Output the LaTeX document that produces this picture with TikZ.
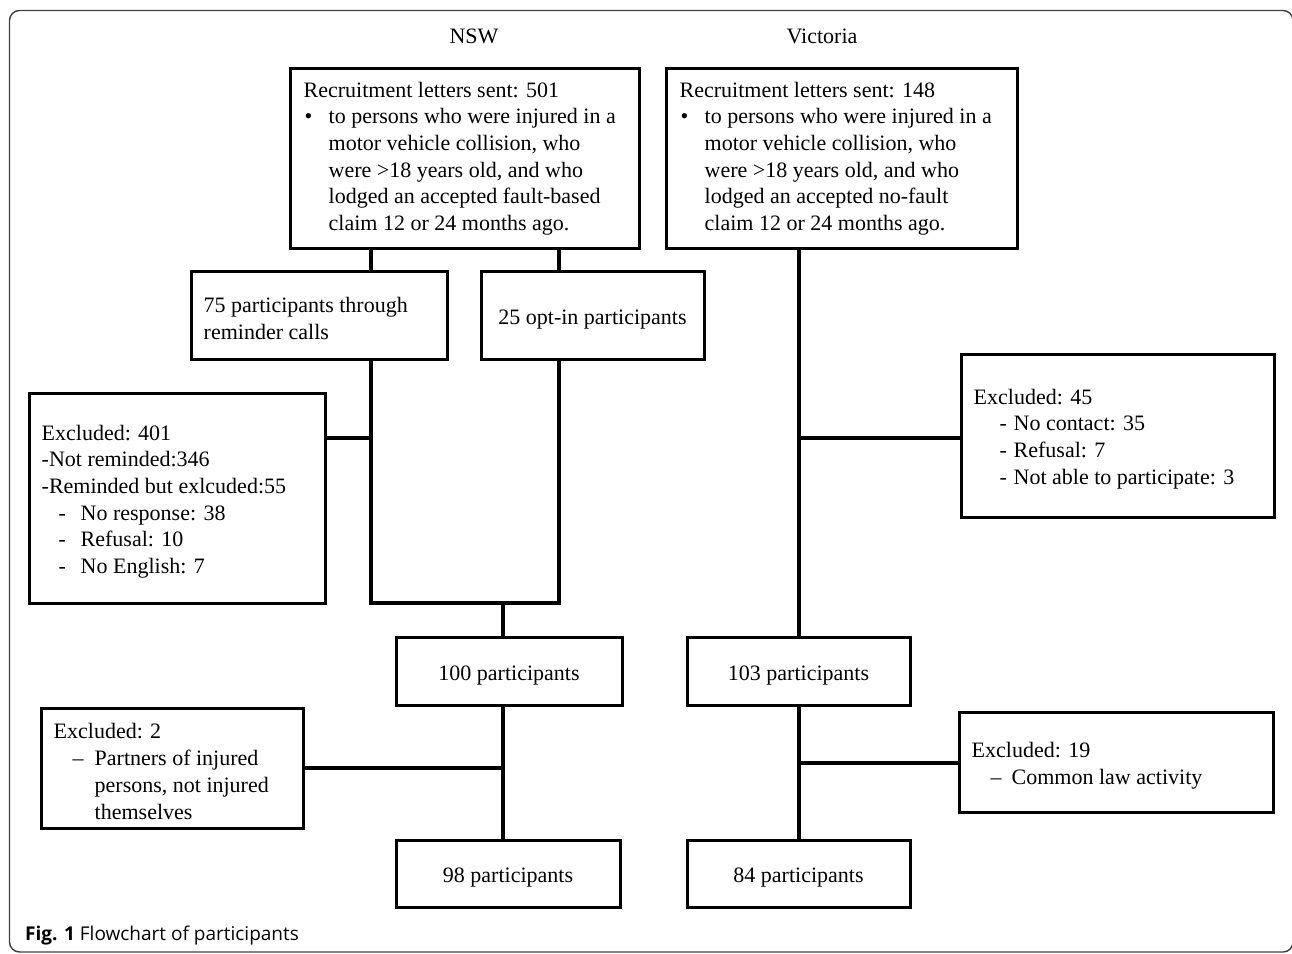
\documentclass[tikz,border=0pt]{standalone}
\usepackage{fontspec}
\setmainfont{Liberation Serif}
\newfontfamily\capfont{Open Sans}
\usetikzlibrary{calc}
\begin{document}
\begin{tikzpicture}[x=1pt,y=-1pt,
  box/.style={draw=black, line width=3pt, inner sep=0pt, align=center,
              text height=23pt, text depth=4.6pt,
              font=\fontsize{22}{26.7}\selectfont},
  txt/.style={anchor=west, inner sep=0pt, align=left,
              font=\fontsize{22}{26.7}\selectfont},
  conn/.style={line width=3.3pt},
  hdr/.style={inner sep=0pt, font=\fontsize{22}{26.7}\selectfont},
  frame/.style={line width=1.4pt, draw=black!75, rounded corners=10pt}]
\useasboundingbox (0,0) rectangle (1292,953);
\fill[white] (0,0) rectangle (1292,953);
\draw[frame] (9.5,10.5) rectangle (1293,952);

% headers
\node[hdr] (hN) at (474,36) {NSW};
\node[hdr] (hV) at (822,36) {Victoria};

% boxes
\node[box, minimum width=349pt, minimum height=180pt] (T1) at (464.5,158) {};
\node[box, minimum width=351pt, minimum height=180pt] (T2) at (841.5,158) {};
\node[box, minimum width=256pt, minimum height=88pt] (B75) at (319,315) {};
\node[box, minimum width=223pt, minimum height=88pt] (B25) at (592.5,315) {25 opt-in participants};
\node[box, minimum width=296pt, minimum height=210pt] (E401) at (177,498) {};
\node[box, minimum width=313pt, minimum height=163pt] (E45) at (1117.5,435.5) {};
\node[box, minimum width=226pt, minimum height=68pt] (P100) at (509,671) {100 participants};
\node[box, minimum width=223pt, minimum height=68pt] (P103) at (798.5,671) {103 participants};
\node[box, minimum width=262pt, minimum height=120pt] (E2) at (172,768) {};
\node[box, minimum width=314pt, minimum height=100pt] (E19) at (1116,762) {};
\node[box, minimum width=224pt, minimum height=67pt] (P98) at (508,873.5) {98 participants};
\node[box, minimum width=223pt, minimum height=67pt] (P84) at (798.5,873.5) {84 participants};

% box texts
\node[txt] (T1t) at ($(T1.west)+(15,0.5)$) {Recruitment letters sent: 501\\
\makebox[25pt][l]{\hspace{1pt}•}to persons who were injured in a\\
\hspace*{25pt}motor vehicle collision, who\\
\hspace*{25pt}were >18 years old, and who\\
\hspace*{25pt}lodged an accepted fault-based\\
\hspace*{25pt}claim 12 or 24 months ago.};
\node[txt] (T2t) at ($(T2.west)+(15,0.5)$) {Recruitment letters sent: 148\\
\makebox[25pt][l]{\hspace{1pt}•}to persons who were injured in a\\
\hspace*{25pt}motor vehicle collision, who\\
\hspace*{25pt}were >18 years old, and who\\
\hspace*{25pt}lodged an accepted no-fault\\
\hspace*{25pt}claim 12 or 24 months ago.};
\node[txt] (B75t) at ($(B75.west)+(14,3.5)$) {75 participants through\\reminder calls};
\node[txt] (E401t) at ($(E401.west)+(14,3.5)$) {Excluded: 401\\
-Not reminded:346\\
-Reminded but exlcuded:55\\
\hspace*{17pt}\makebox[22pt][l]{-}No response: 38\\
\hspace*{17pt}\makebox[22pt][l]{-}Refusal: 10\\
\hspace*{17pt}\makebox[22pt][l]{-}No English: 7};
\node[txt] (E45t) at ($(E45.west)+(14,3.5)$) {Excluded: 45\\
\hspace*{26pt}\makebox[14pt][l]{-}No contact: 35\\
\hspace*{26pt}\makebox[14pt][l]{-}Refusal: 7\\
\hspace*{26pt}\makebox[14pt][l]{-}Not able to participate: 3};
\node[txt] (E2t) at ($(E2.west)+(14,3.5)$) {Excluded: 2\\
\hspace*{19pt}\makebox[22pt][l]{–}Partners of injured\\
\hspace*{41pt}persons, not injured\\
\hspace*{41pt}themselves};
\node[txt] (E19t) at ($(E19.west)+(14,3.5)$) {Excluded: 19\\
\hspace*{19pt}\makebox[21pt][l]{–}Common law activity};

% connector coordinates
\coordinate (xL) at (371,0);
\coordinate (xR) at (559,0);
\coordinate (xM) at (503,0);
\coordinate (xV) at (799,0);
\coordinate (J) at (0,603);
\coordinate (h1) at (371,438);
\coordinate (h2) at (799,438);
\coordinate (h3) at (503,768);
\coordinate (h4) at (799,763);

% NSW connectors
\draw[conn] (T1.south -| xL) -- (B75.north -| xL);
\draw[conn] (T1.south -| xR) -- (B25.north -| xR);
\draw[conn] (B75.south -| xL) -- (xL |- J) -- (xR |- J) -- (B25.south -| xR);
\draw[conn] (xM |- J) -- (P100.north -| xM);
\draw[conn] (E401.east |- h1) -- (h1);
\draw[conn] (P100.south -| xM) -- (P98.north -| xM);
\draw[conn] (E2.east |- h3) -- (h3);

% Victoria connectors
\draw[conn] (T2.south -| xV) -- (P103.north -| xV);
\draw[conn] (h2) -- (E45.west |- h2);
\draw[conn] (P103.south -| xV) -- (P84.north -| xV);
\draw[conn] (h4) -- (E19.west |- h4);

% caption
\node[anchor=base west, inner sep=0pt, font=\capfont\fontsize{19}{22}\selectfont] (cap) at (25,940)
  {\textbf{Fig. 1} Flowchart of participants};
\end{tikzpicture}
\end{document}
